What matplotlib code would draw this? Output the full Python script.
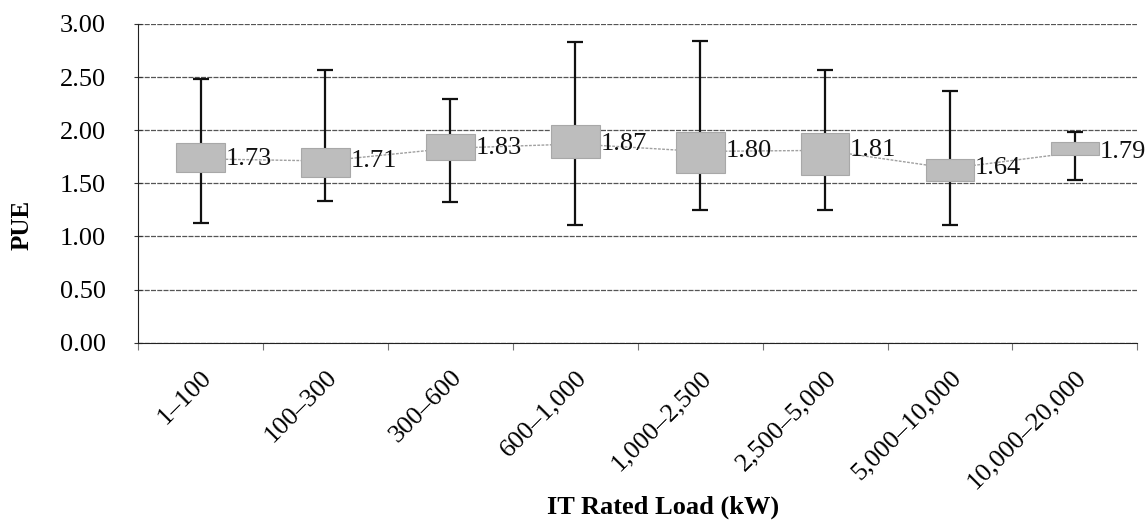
import matplotlib.pyplot as plt
import numpy as np
from matplotlib.patches import Rectangle

# IT load bins and PUE statistics
categories = ['1\u2013100', '100\u2013300', '300\u2013600', '600\u20131,000',
              '1,000\u20132,500', '2,500\u20135,000', '5,000\u201310,000', '10,000\u201320,000']
pue_mean = [1.73, 1.71, 1.83, 1.87, 1.80, 1.81, 1.64, 1.79]
box_low = [1.61, 1.56, 1.72, 1.74, 1.60, 1.58, 1.52, 1.77]
box_high = [1.88, 1.83, 1.96, 2.05, 1.98, 1.97, 1.73, 1.89]
pue_min = [1.13, 1.33, 1.32, 1.11, 1.25, 1.25, 1.11, 1.53]
pue_max = [2.48, 2.57, 2.29, 2.83, 2.84, 2.57, 2.37, 1.98]

plt.rcParams['font.family'] = ['Liberation Serif', 'DejaVu Serif']

fig = plt.figure(figsize=(11.46, 5.2), dpi=100)
ax = fig.add_axes([0.1205, 0.341, 0.872, 0.613])

x = np.arange(len(categories))
mean = np.array(pue_mean)

# whiskers min..max
ax.errorbar(x, mean, yerr=[mean - np.array(pue_min), np.array(pue_max) - mean],
            fmt='none', ecolor='#111111', elinewidth=1.6, capsize=6, capthick=1.6, zorder=3)

# thin line joining the means
ax.plot(x, mean, color='#a0a0a0', lw=1.0, ls=(0, (2, 1)), zorder=2)

box_w = 0.39
for xi, lo, hi, m in zip(x, box_low, box_high, pue_mean):
    ax.add_patch(Rectangle((xi - box_w / 2, lo), box_w, hi - lo,
                           facecolor='#bdbdbd', edgecolor='#a8a8a8', lw=0.8, zorder=4))
    ax.text(xi + box_w / 2 + 0.005, m, f'{m:.2f}', ha='left', va='center',
            fontsize=19, color='#111111', zorder=5)

ax.set_xlim(-0.5, len(categories) - 0.5)
ax.set_ylim(0, 3)
ax.set_yticks(np.arange(0, 3.01, 0.5))
ax.set_yticklabels([f'{v:.2f}' for v in np.arange(0, 3.01, 0.5)], fontsize=19)
ax.yaxis.grid(True, color='#555555', lw=0.9, ls=(0, (4, 1)))
ax.set_axisbelow(True)

ax.set_xticks(x)
ax.set_xticklabels(categories, rotation=45, ha='right', rotation_mode='anchor',
                   fontsize=19)
ax.tick_params(axis='x', length=0, pad=17)
ax.set_xticks(np.arange(-0.5, len(categories)), minor=True)
ax.tick_params(axis='x', which='minor', length=5, color='#777777', width=0.8)
ax.tick_params(axis='y', direction='inout', length=6, width=0.8, color='#333333', pad=20)

for side in ['top', 'right']:
    ax.spines[side].set_visible(False)
ax.spines['left'].set_color('#222222')
ax.spines['bottom'].set_color('#222222')

ax.set_ylabel('PUE', fontsize=18, fontweight='bold', va='center')
ax.yaxis.set_label_coords(-0.116, 0.37)
ax.set_xlabel('IT Rated Load (kW)', fontsize=19, fontweight='bold', va='center')
ax.xaxis.set_label_coords(0.525, -0.515)

fig.savefig('out.png', dpi=100)
